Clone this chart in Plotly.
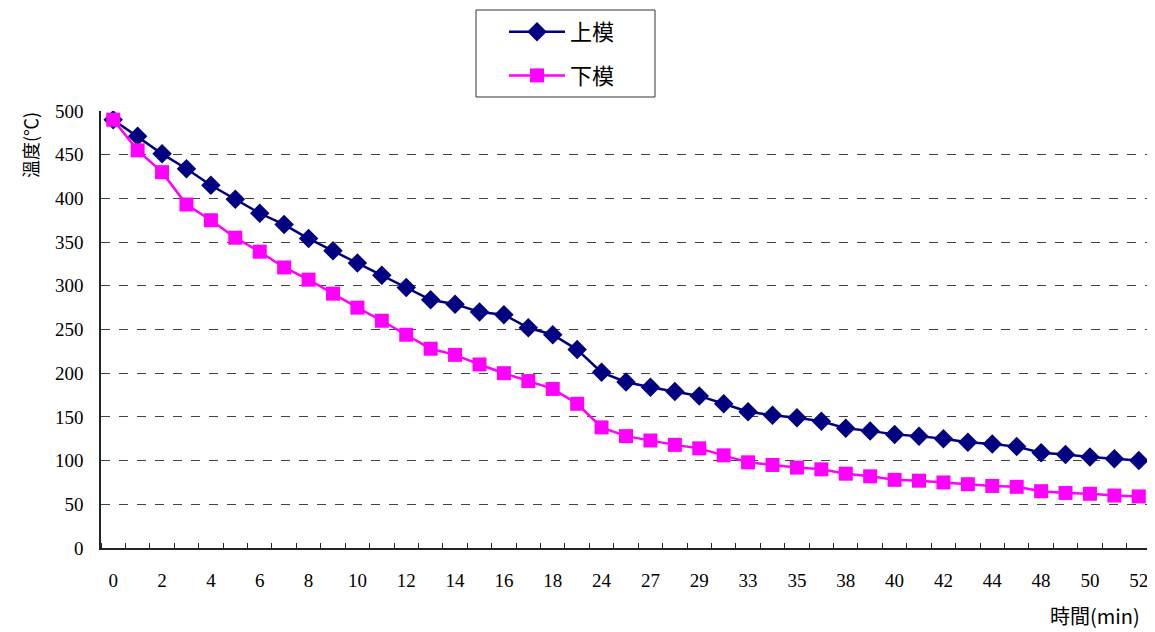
import plotly.graph_objects as go

categories = ["0", "1", "2", "3", "4", "5", "6", "7", "8", "9", "10", "11", "12", "13",
              "14", "15", "16", "17", "18", "21", "24", "26", "27", "28", "29", "31", "33",
              "34", "35", "37", "38", "39", "40", "41", "42", "43", "44", "46", "48", "49",
              "50", "51", "52"]
upper_mold = [490, 471, 451, 434, 415, 399, 383, 370, 354, 340, 326, 312, 298, 284,
              279, 270, 267, 252, 244, 227, 201, 190, 184, 179, 174, 165, 156,
              152, 149, 145, 137, 134, 130, 128, 125, 121, 119, 116, 109, 107,
              104, 102, 100]
lower_mold = [490, 455, 430, 393, 375, 355, 339, 321, 307, 291, 275, 260, 244, 228,
              221, 210, 200, 191, 182, 165, 138, 128, 123, 118, 114, 106, 98,
              95, 92, 90, 85, 82, 78, 77, 75, 73, 71, 70, 65, 63,
              62, 60, 59]
series_names = ["上模", "下模"]
y_ticks = [0, 50, 100, 150, 200, 250, 300, 350, 400, 450, 500]

idx = list(range(len(categories)))
label_idx = idx[::2]
label_txt = [categories[i] for i in label_idx]

# page offset of the plotly div (default body margin)
OFF = 8
W, H = 1155 - OFF, 632 - OFF
L, T, PW, PH = 101 - OFF, 111 - OFF, 1050, 437
R, B = W - L - PW, H - T - PH


def px(xp):
    return (xp - 101) / PW


def py(yp):
    return (548 - yp) / PH


fig = go.Figure()
fig.add_trace(go.Scatter(
    x=idx, y=upper_mold, name=series_names[0], mode="lines+markers",
    legendgroup="a",
    line=dict(color="#000080", width=2.5),
    marker=dict(symbol="diamond", size=15, color="#000080"),
))
fig.add_trace(go.Scatter(
    x=idx, y=lower_mold, name=series_names[1], mode="lines+markers",
    legendgroup="b",
    line=dict(color="#FF00FF", width=2.5),
    marker=dict(symbol="square", size=14, color="#FF00FF"),
))

serif = "Liberation Serif, Times New Roman, serif"
cjk = "Noto Sans CJK TC, Noto Sans CJK SC, sans-serif"

fig.update_layout(
    width=W, height=H,
    margin=dict(l=L, r=R, t=T, b=B, autoexpand=False),
    paper_bgcolor="white", plot_bgcolor="white",
    showlegend=True,
    legend=dict(
        x=px(504), y=py(11), xanchor="left", yanchor="top",
        borderwidth=0, bgcolor="rgba(0,0,0,0)",
        font=dict(family=cjk, size=22, color="black"),
        itemwidth=56, tracegroupgap=12,
    ),
    shapes=[dict(type="rect", xref="paper", yref="paper",
                 x0=px(476), x1=px(655), y0=py(97), y1=py(10),
                 line=dict(color="#333333", width=1), fillcolor="rgba(0,0,0,0)",
                 layer="below")],
    xaxis=dict(
        range=[-0.5, len(categories) - 0.5],
        tickmode="array", tickvals=label_idx, ticktext=label_txt,
        ticks="", showgrid=False, zeroline=False,
        showline=True, linecolor="#222222", linewidth=1.5,
        tickfont=dict(family=serif, size=19, color="black"),
        ticklabelstandoff=14,
        minor=dict(tickmode="linear", tick0=-0.5, dtick=1, ticks="inside",
                   ticklen=5, tickcolor="#222222", tickwidth=1, showgrid=False),
    ),
    yaxis=dict(
        range=[0, 500], tickmode="array", tickvals=y_ticks,
        showgrid=True, gridcolor="#444444", griddash="dash", gridwidth=1,
        zeroline=False, showline=True, linecolor="#222222", linewidth=1.5,
        ticks="", tickfont=dict(family=serif, size=19, color="black"),
        ticklabelstandoff=12,
    ),
    annotations=[
        dict(text="溫度(℃)", xref="paper", yref="paper",
             x=px(30), y=py(145), xanchor="center", yanchor="middle",
             showarrow=False, textangle=-90,
             font=dict(family=cjk, size=18, color="black")),
        dict(text="時間(min)", xref="paper", yref="paper",
             x=px(1142), y=py(615), xanchor="right", yanchor="middle",
             showarrow=False, font=dict(family=cjk, size=20, color="black")),
    ],
)

fig.write_html("out.html")
